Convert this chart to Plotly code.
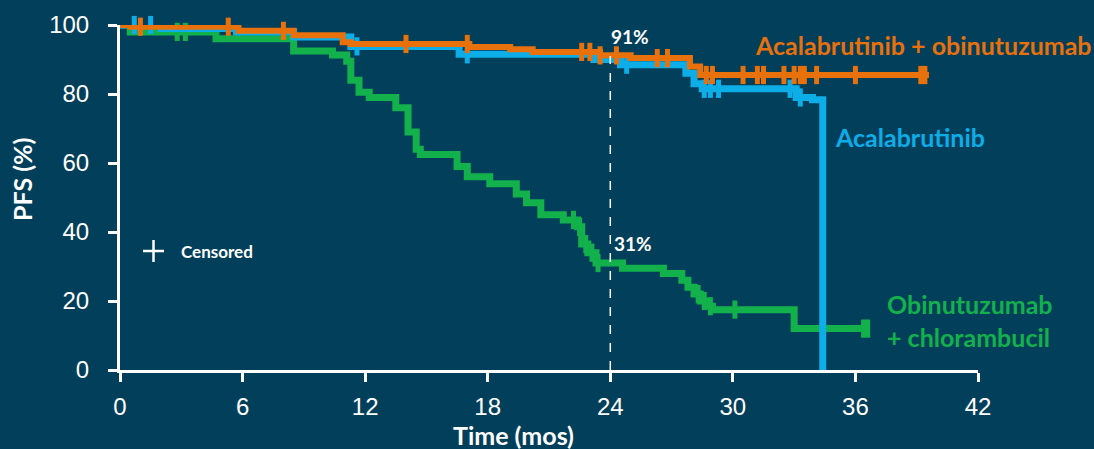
import numpy as np
import plotly.graph_objects as go

# ---- data ----
x_ticks = [0, 6, 12, 18, 24, 30, 36, 42]
y_ticks = [0, 20, 40, 60, 80, 100]

acob_t = [0, 0.5, 5.8, 8.5, 10.9, 11.3, 17.1, 19.1, 20.2, 23.5, 25.0, 27.9, 28.4, 39.6]
acob_s = [100, 99.5, 98.3, 97, 95, 94.5, 93.6, 93, 92.2, 91.2, 90.4, 88, 85.5, 85.5]
acob_cens = [1.0, 5.3, 8.0, 14.0, 17.0, 22.6, 23.0, 23.5, 24.3, 26.3, 26.8, 28.7, 29.0,
             30.5, 31.2, 31.5, 32.5, 33.0, 33.3, 33.5, 34.1, 36.0, 39.2, 39.4]

acal_t = [0, 2.0, 5.7, 8.5, 11.3, 16.6, 23.2, 24.5, 27.7, 28.1, 28.5, 33.1, 33.9, 34.4]
acal_s = [100, 99, 98, 96.5, 93.8, 91.5, 90, 88.5, 86, 83, 81.5, 79, 78.3, 0]
acal_cens = [0.7, 1.5, 11.6, 17.0, 24.8, 28.6, 28.9, 29.3, 32.8, 33.3]

obch_t = [0, 0.5, 4.7, 8.5, 10.4, 11.1, 11.3, 11.7, 12.2, 13.5, 14.1, 14.5, 14.7, 16.5,
          17.0, 18.1, 19.4, 19.9, 20.6, 21.7, 22.4, 22.6, 22.9, 23.3, 24.6, 26.6, 27.5,
          27.8, 28.1, 28.4, 28.7, 29.0, 33.0, 36.6]
obch_s = [100, 98, 96, 92.5, 91.3, 89.5, 84, 80.5, 79, 76, 69, 64, 62.5, 59,
          56, 54, 51, 48.5, 45, 43.5, 41.5, 36.5, 34, 31, 29.5, 28, 26,
          24, 22, 20, 18.5, 17.5, 12, 12]
obch_cens = [2.8, 3.2, 22.2, 22.5, 22.8, 23.1, 23.4, 28.3, 28.6, 28.9, 30.1, 36.4, 36.6]

landmark_t = 24
landmark_labels = ["91%", "31%"]
landmark_vals = [91, 31]

ORANGE = "#E8710C"
BLUE = "#0DADE8"
GREEN = "#12B14B"
BG = "#023F5B"
WHITE = "#FFFFFF"


def step_value(ts, ss, t):
    ts = np.asarray(ts)
    ss = np.asarray(ss)
    idx = np.searchsorted(ts, t, side="right") - 1
    return ss[np.clip(idx, 0, len(ss) - 1)]


fig = go.Figure()

series = [
    (obch_t, obch_s, obch_cens, GREEN, 7),
    (acal_t, acal_s, acal_cens, BLUE, 7),
    (acob_t, acob_s, acob_cens, ORANGE, 6),
]
for ts, ss, cens, col, w in series:
    fig.add_trace(go.Scatter(x=ts, y=ss, mode="lines", line=dict(color=col, width=w, shape="hv"),
                             showlegend=False, hoverinfo="skip", cliponaxis=False))
    fig.add_trace(go.Scatter(x=cens, y=[step_value(ts, ss, c) for c in cens], mode="markers",
                             marker=dict(symbol="line-ns", size=13, line=dict(color=col, width=5)),
                             showlegend=False, hoverinfo="skip", cliponaxis=False))

# landmark dashed line at 24 months
fig.add_shape(type="line", x0=landmark_t, x1=landmark_t, y0=0, y1=landmark_vals[0],
              xref="x", yref="y", line=dict(color=WHITE, width=1.5, dash="dash"))

font_lbl = "Lato, 'Open Sans', sans-serif"
fig.add_annotation(x=landmark_t, y=landmark_vals[0], text="<b>" + landmark_labels[0] + "</b>",
                   xref="x", yref="y", xanchor="left", yanchor="bottom", xshift=-1, yshift=6,
                   showarrow=False, font=dict(family=font_lbl, size=19, color=WHITE))
fig.add_annotation(x=landmark_t, y=landmark_vals[1], text="<b>" + landmark_labels[1] + "</b>",
                   xref="x", yref="y", xanchor="left", yanchor="bottom", xshift=2, yshift=6,
                   showarrow=False, font=dict(family=font_lbl, size=19, color=WHITE))

# series labels
fig.add_annotation(x=753, y=449 - 45, xref="paper", yref="paper", text="<b>Acalabrutinib + obinutuzumab</b>",
                   showarrow=False, xanchor="left", yanchor="middle",
                   font=dict(family=font_lbl, size=25, color=ORANGE))
fig.add_annotation(x=833, y=449 - 137, xref="paper", yref="paper", text="<b>Acalabrutinib</b>",
                   showarrow=False, xanchor="left", yanchor="middle",
                   font=dict(family=font_lbl, size=25, color=BLUE))
fig.add_annotation(x=885, y=449 - 320, xref="paper", yref="paper",
                   text="<b>Obinutuzumab<br>+ chlorambucil</b>", align="left",
                   showarrow=False, xanchor="left", yanchor="middle",
                   font=dict(family=font_lbl, size=25, color=GREEN))

# censored key
fig.add_shape(type="line", x0=143, x1=164, y0=449 - 251, y1=449 - 251, xref="paper", yref="paper",
              line=dict(color=WHITE, width=2.5))
fig.add_shape(type="line", x0=153.5, x1=153.5, y0=449 - 240, y1=449 - 262, xref="paper", yref="paper",
              line=dict(color=WHITE, width=2.5))
fig.add_annotation(x=179, y=449 - 251, xref="paper", yref="paper", text="<b>Censored</b>",
                   showarrow=False, xanchor="left", yanchor="middle",
                   font=dict(family=font_lbl, size=17, color=WHITE))

# axis titles
fig.add_annotation(x=513, y=449 - 435, xref="paper", yref="paper", text="<b>Time (mos)</b>",
                   showarrow=False, xanchor="center", yanchor="middle",
                   font=dict(family=font_lbl, size=25, color=WHITE))
fig.add_annotation(x=22, y=449 - 180, xref="paper", yref="paper", text="<b>PFS (%)</b>",
                   showarrow=False, xanchor="center", yanchor="middle", textangle=-90,
                   font=dict(family=font_lbl, size=25, color=WHITE))

# convert paper-pixel annotations to fractions
W, H = 1094, 449
ML, MR, MT, MB = 120, 116, 25, 79
for a in fig.layout.annotations:
    if a.xref == "paper":
        a.x = (a.x - ML) / (W - ML - MR)
        a.y = (a.y - MB) / (H - MT - MB)
for s in fig.layout.shapes:
    if s.xref == "paper":
        s.x0 = (s.x0 - ML) / (W - ML - MR)
        s.x1 = (s.x1 - ML) / (W - ML - MR)
        s.y0 = (s.y0 - MB) / (H - MT - MB)
        s.y1 = (s.y1 - MB) / (H - MT - MB)

tickfont = dict(family="Liberation Sans, Arial, sans-serif", size=24, color=WHITE)
fig.update_layout(
    width=W, height=H,
    margin=dict(l=ML, r=MR, t=MT, b=MB),
    paper_bgcolor=BG, plot_bgcolor=BG,
    xaxis=dict(range=[0, 42], tickvals=x_ticks, ticks="outside", ticklen=9, tickwidth=3,
               tickcolor=WHITE, showline=True, linecolor=WHITE, linewidth=3, showgrid=False,
               zeroline=False, tickfont=tickfont, ticklabelstandoff=4, fixedrange=True),
    yaxis=dict(range=[0, 100], tickvals=y_ticks, ticks="outside", ticklen=9, tickwidth=3,
               tickcolor=WHITE, showline=True, linecolor=WHITE, linewidth=3, showgrid=False,
               zeroline=False, tickfont=tickfont, ticklabelstandoff=14, fixedrange=True),
    showlegend=False,
)

fig.write_html("out.html", config={"displayModeBar": False},
               post_script="document.body.style.margin='0';document.body.style.overflow='hidden';"
                           "document.body.style.background='" + BG + "';")
